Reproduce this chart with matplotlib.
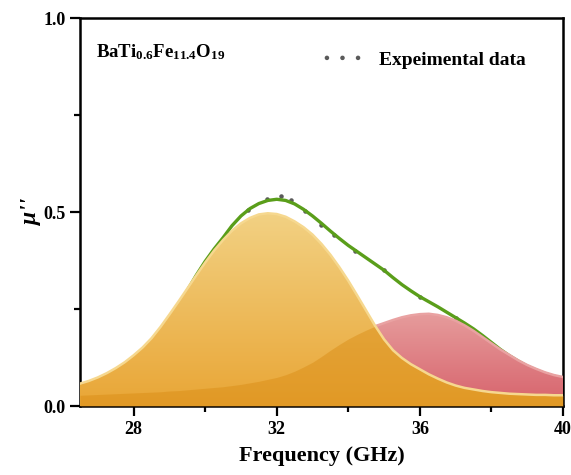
import numpy as np
import matplotlib
matplotlib.use('Agg')
import matplotlib.pyplot as plt
from matplotlib.colors import LinearSegmentedColormap
from matplotlib.patches import PathPatch

plt.rcParams['font.family'] = 'Liberation Serif'
plt.rcParams['font.weight'] = 'bold'
plt.rcParams['axes.labelweight'] = 'bold'
plt.rcParams['mathtext.fontset'] = 'custom'
plt.rcParams['mathtext.rm'] = 'Liberation Serif:bold'
plt.rcParams['mathtext.bf'] = 'Liberation Serif:bold'
plt.rcParams['mathtext.it'] = 'Liberation Serif:italic:bold'

# values (GHz, mu''), 0.25 GHz steps
freq = [26.5, 26.75, 27.0, 27.25, 27.5, 27.75, 28.0, 28.25, 28.5, 28.75,
        29.0, 29.25, 29.5, 29.75, 30.0, 30.25, 30.5, 30.75, 31.0, 31.25,
        31.5, 31.75, 32.0, 32.25, 32.5, 32.75, 33.0, 33.25, 33.5, 33.75,
        34.0, 34.25, 34.5, 34.75, 35.0, 35.25, 35.5, 35.75, 36.0, 36.25,
        36.5, 36.75, 37.0, 37.25, 37.5, 37.75, 38.0, 38.25, 38.5, 38.75,
        39.0, 39.25, 39.5, 39.75, 40.0]
peak1 = [0.058, 0.065, 0.074, 0.085, 0.098, 0.113, 0.131, 0.151, 0.175, 0.204,
         0.236, 0.269, 0.303, 0.337, 0.370, 0.401, 0.428, 0.452, 0.471, 0.485,
         0.494, 0.497, 0.495, 0.488, 0.476, 0.461, 0.442, 0.418, 0.390, 0.358,
         0.323, 0.285, 0.246, 0.207, 0.172, 0.144, 0.124, 0.108, 0.095, 0.082,
         0.071, 0.061, 0.053, 0.047, 0.043, 0.039, 0.036, 0.034, 0.032, 0.031,
         0.030, 0.029, 0.029, 0.028, 0.028]
peak2 = [0.028, 0.029, 0.030, 0.031, 0.032, 0.033, 0.034, 0.035, 0.036, 0.037,
         0.039, 0.040, 0.042, 0.044, 0.046, 0.048, 0.050, 0.053, 0.056, 0.060,
         0.064, 0.069, 0.074, 0.081, 0.090, 0.101, 0.113, 0.128, 0.144, 0.159,
         0.173, 0.185, 0.196, 0.206, 0.214, 0.222, 0.229, 0.234, 0.237, 0.238,
         0.235, 0.229, 0.220, 0.208, 0.194, 0.178, 0.162, 0.146, 0.132, 0.118,
         0.106, 0.096, 0.087, 0.080, 0.075]
fit = [0.040, 0.047, 0.056, 0.067, 0.080, 0.095, 0.113, 0.134, 0.158, 0.186,
       0.219, 0.256, 0.298, 0.337, 0.373, 0.405, 0.434, 0.465, 0.490, 0.509,
       0.522, 0.530, 0.533, 0.530, 0.521, 0.507, 0.490, 0.471, 0.451, 0.432,
       0.414, 0.398, 0.382, 0.366, 0.350, 0.331, 0.313, 0.297, 0.282, 0.269,
       0.256, 0.242, 0.228, 0.214, 0.199, 0.182, 0.164, 0.146, 0.130, 0.116,
       0.103, 0.093, 0.084, 0.077, 0.071]

exp_freq = [27.0, 28.0, 29.0, 30.0, 30.6, 31.2, 31.72, 32.12, 32.4, 32.8,
            33.24, 33.6, 34.2, 35.0, 36.0, 37.0, 38.0, 39.0, 40.0]
exp_vals = [0.055, 0.110, 0.215, 0.365, 0.446, 0.505, 0.534, 0.541, 0.530, 0.504,
            0.468, 0.440, 0.401, 0.350, 0.282, 0.228, 0.160, 0.100, 0.068]


def gradient_fill(ax, x, y, colors, zorder):
    poly = ax.fill_between(x, 0, y, facecolor='none', edgecolor='none')
    patch = PathPatch(poly.get_paths()[0], transform=ax.transData,
                      facecolor='none', edgecolor='none')
    ax.add_patch(patch)
    cmap = LinearSegmentedColormap.from_list('grad', colors)
    grad = np.linspace(0, 1, 256).reshape(-1, 1)
    im = ax.imshow(grad, cmap=cmap, aspect='auto', origin='lower',
                   extent=[x[0], x[-1], 0, max(y)], zorder=zorder)
    im.set_clip_path(patch)


fig = plt.figure(figsize=(5.71, 4.75), dpi=100)
ax = fig.add_axes([0.140, 0.145, 0.846, 0.817])

ax.scatter(exp_freq, exp_vals, s=5, color='#5a5a5a', zorder=1.9, label='Expeimental data')
ax.plot(freq, fit, color='#5a9e1a', lw=2.4, zorder=2, solid_capstyle='round')

gradient_fill(ax, freq, peak2, ['#d7636c', '#e69c9c'], 3)
ax.plot(freq, peak2, color='#e9a2a2', lw=1.8, zorder=3.1)

gradient_fill(ax, freq, peak1, ['#e9a636', '#f2d183'], 4)
ax.fill_between(freq, 0, np.minimum(peak1, peak2), color='#d98a12', alpha=0.45,
                lw=0, zorder=4.5)
ax.plot(freq, peak1, color='#f6d88f', lw=1.8, zorder=5)

ax.set_xlim(26.5, 40)
ax.set_ylim(0, 1.0)
ax.set_xticks([28, 32, 36, 40])
ax.set_xticks([30, 34, 38], minor=True)
ax.set_yticks([0.0, 0.5, 1.0])
ax.set_yticklabels(['0.0', '0.5', '1.0'])
ax.set_yticks([0.25, 0.75], minor=True)
ax.tick_params(which='both', direction='out', width=1.6, labelsize=13, top=False, right=False)
ax.tick_params(which='major', length=7)
ax.tick_params(which='minor', length=4.5)
for s in ax.spines.values():
    s.set_linewidth(1.8)

ax.set_xlabel('Frequency (GHz)', fontsize=16, fontweight='bold', labelpad=6)
ax.set_ylabel("μ''", fontsize=17, fontstyle='italic', fontweight='bold', labelpad=1)

ax.text(0.033, 0.912, r'$\mathbf{BaTi_{0.6}Fe_{11.4}O_{19}}$', transform=ax.transAxes,
        fontsize=13.5, va='center', ha='left')
ax.legend(loc='upper right', bbox_to_anchor=(0.96, 0.96), frameon=False, fontsize=14,
          scatterpoints=3, scatteryoffsets=[0.5], handlelength=2.2, handletextpad=0.8)

fig.savefig('out.png', dpi=100)
